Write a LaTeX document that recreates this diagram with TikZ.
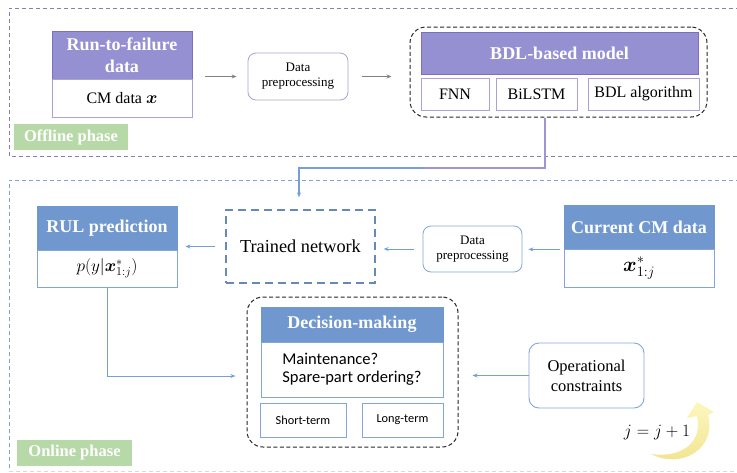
\documentclass[tikz,border=0pt]{standalone}
\usepackage{amsmath}
\usepackage{fontspec}
\setmainfont{Liberation Serif}
\newfontfamily\carl{Carlito}
\usetikzlibrary{arrows.meta,calc}

\definecolor{purpH}{RGB}{148,144,210}
\definecolor{purpB}{RGB}{126,110,190}
\definecolor{purpL}{RGB}{172,162,214}
\definecolor{offdash}{RGB}{138,124,174}
\definecolor{blueH}{RGB}{112,152,206}
\definecolor{blueL}{RGB}{130,166,218}
\definecolor{ondash}{RGB}{128,164,218}
\definecolor{greenL}{RGB}{183,217,168}
\definecolor{arrgray}{RGB}{130,130,130}
\definecolor{arrblue}{RGB}{118,158,216}
\definecolor{lineP}{RGB}{160,148,214}
\definecolor{yelLight}{RGB}{252,247,190}
\definecolor{yelDark}{RGB}{240,226,140}

\begin{document}
\begin{tikzpicture}[x=1pt,y=-1pt,
  sz/.style 2 args={minimum width=#1pt, minimum height=#2pt, inner sep=0pt},
  hdrfont/.style={font=\bfseries\fontsize{18}{22}\selectfont, text=white, align=center},
  phdr/.style={draw=purpB, fill=purpH, line width=0.8pt, hdrfont},
  pcell/.style={draw=purpL, fill=white, line width=0.8pt, font=\fontsize{16}{19}\selectfont, align=center},
  bhdr/.style={draw=blueH, fill=blueH, line width=0.8pt, hdrfont},
  bcell/.style={draw=blueL, fill=white, line width=0.8pt, font=\fontsize{16}{19}\selectfont, align=center},
  prep/.style={rounded corners=8pt, line width=0.8pt, fill=white, font=\fontsize{13}{15}\selectfont, align=center},
  group/.style={draw=black!85, rounded corners=16pt, dash pattern=on 4pt off 2.5pt, line width=1pt},
  phase/.style={fill=greenL, text=white, font=\bfseries\fontsize{16.5}{18}\selectfont},
  garrow/.style={draw=arrgray, line width=0.8pt, -{Stealth[length=5pt,width=4pt]}},
  barrow/.style={draw=arrblue, line width=1pt, -{Stealth[length=5pt,width=4pt]}}
]
\useasboundingbox (0,0) rectangle (737,472);

% ---------- phase frames ----------
\draw[offdash, dash pattern=on 4pt off 3pt, line width=1pt] (740,8) -- (9,8) -- (9,156) -- (740,156);
\draw[ondash, dash pattern=on 4pt off 3pt, line width=1pt] (740,180) -- (9,180) -- (9,471);
\draw[black!15, dash pattern=on 4pt off 3pt, line width=0.8pt] (9,471) -- (740,471);

\node[phase, sz={114}{26}] (offlbl) at (71,137) {Offline phase};
\node[phase, sz={115}{26}] (onlbl) at (74.5,453) {Online phase};

% ---------- offline phase ----------
\node[phdr, sz={140}{48}] (runhead) at (122,55) {Run-to-failure\\data};
\node[pcell, sz={140}{38}] (runcm) at (122,98) {CM data $\boldsymbol{x}$};

\node[prep, draw=purpL, sz={100}{47}] (pre1) at (298,76.5) {Data\\preprocessing};

\node[group, sz={297}{90}] (bdlbox) at (558.5,72) {};
\node[phdr, sz={277}{42}] (bdlhead) at (559.5,53) {BDL-based model};
\node[pcell, sz={68}{32}] (fnn) at (455,94) {FNN};
\node[pcell, sz={81}{32}] (bilstm) at (536.5,94) {BiLSTM};
\node[pcell, sz={111}{32}] (bdlalg) at (643.5,94) {BDL algorithm};

\draw[garrow, shorten <=13pt, shorten >=11pt] (pre1.west -| runhead.east) -- (pre1.west);
\draw[garrow, shorten <=14pt, shorten >=18pt] (pre1.east) -- (pre1.east -| bdlbox.west);

% ---------- online phase ----------
\node[bhdr, sz={140}{44}] (rulhead) at (107,228) {RUL prediction};
\node[bcell, sz={140}{37}, font=\fontsize{17}{19}\selectfont] (rulp) at (107,268.5) {$p(y|\boldsymbol{x}^*_{1:j})$};

\node[draw=blueH!90!black, dash pattern=on 8pt off 5pt, line width=1.3pt, sz={149}{73},
      font=\fontsize{18.3}{20}\selectfont] (trained) at (300.5,246.5) {Trained network};

\node[prep, draw=blueL, sz={99}{46}] (pre2) at (472.5,249) {Data\\preprocessing};

\node[bhdr, sz={150}{44}] (curhead) at (639,227) {Current CM data};
\node[bcell, sz={150}{38}, font=\fontsize{20}{22}\selectfont] (curx) at (639,268) {$\boldsymbol{x}^*_{1:j}$};

\node[group, sz={211}{150}] (dmbox) at (352.5,372) {};
\node[bhdr, sz={182}{35}] (dmhead) at (352,324.5) {Decision-making};
\node[bcell, sz={182}{55}, align=left, font=\carl\fontsize{16.5}{18}\selectfont] (dmq) at (352,369.5)
  {Maintenance?\\Spare-part ordering?};
\node[bcell, sz={86}{34}, font=\carl\fontsize{12.3}{14}\selectfont] (shortt) at (303,420) {Short-term};
\node[bcell, sz={81}{34}, font=\carl\fontsize{12.3}{14}\selectfont] (longt) at (402.5,420) {Long-term};

\node[rounded corners=10pt, draw=blueL, line width=0.9pt, sz={115}{65}, align=center,
      font=\fontsize{16.5}{20}\selectfont] (ops) at (586.5,375.5) {Operational\\constraints};

\node[font=\fontsize{16}{18}\selectfont] (jinc) at (657,433) {$j=j+1$};

% model handed over from offline to online phase
\coordinate (bend1) at (545,168);
\coordinate (mix) at (423,168);
\coordinate (bend2) at (299,168);
\draw[lineP, line width=1.3pt] (bdlbox.south -| bend1) -- (bend1) -- (mix);
\draw[barrow, line width=1.3pt, shorten >=12pt] (mix) -- (bend2) -- (bend2 |- trained.north);

% online data flow
\draw[barrow, shorten <=4pt, shorten >=6pt] (curhead.south west) -- (curhead.south west -| pre2.east);
\draw[barrow, shorten <=9pt, shorten >=8pt] (pre2.west) -- (pre2.west -| trained.east);
\draw[barrow, shorten <=10pt, shorten >=8pt] (trained.west) -- (trained.west -| rulhead.east);
\draw[barrow, shorten >=11pt] (rulp.south) |- ([yshift=-4pt]dmbox.west);
\draw[barrow, shorten >=14pt] (ops.west) -- (ops.west -| dmbox.east);

% curved "next step" arrow
\shade[top color=yelLight, bottom color=yelDark]
  (651,454) .. controls (682,470) and (717,448) .. (708,415)
  -- (714,412) -- (697,402) -- (687,418) -- (697,416)
  .. controls (703,444) and (680,458) .. (651,454) -- cycle;
\end{tikzpicture}
\end{document}
